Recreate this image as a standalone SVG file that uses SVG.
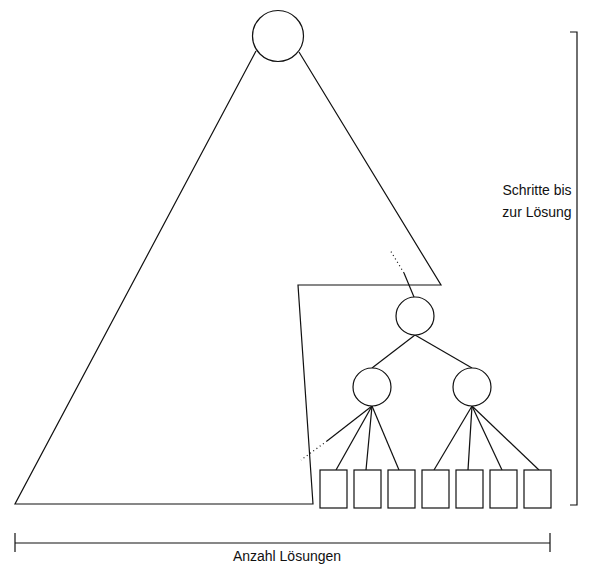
<svg xmlns="http://www.w3.org/2000/svg" width="590" height="567" viewBox="0 0 590 567">
  <style>
    .ln { fill: none; stroke: #111; stroke-width: 1.2; }
    .dot { fill: none; stroke: #111; stroke-width: 1.2; stroke-dasharray: 1 3; }
    .nd { fill: #fff; stroke: #111; stroke-width: 1.2; }
    .lbl { font-family: "Liberation Sans", Arial, sans-serif; font-size: 14px; fill: #111; }
  </style>
  <rect width="590" height="567" fill="#fff"/>

  <!-- search tree outline with cut-out subtree -->
  <g id="outline">
    <polyline class="ln" points="256,51 15,504 313,504 298,285 441,285 299,52"/>
  </g>

  <g id="connectors">
    <line class="ln" x1="414" y1="297" x2="404" y2="273"/>
    <line class="dot" x1="404" y1="273" x2="390" y2="250"/>
    <line class="ln" x1="415" y1="335" x2="372" y2="368"/>
    <line class="ln" x1="415" y1="335" x2="472" y2="368"/>
    <line class="ln" x1="372" y1="406" x2="327" y2="441"/>
    <line class="dot" x1="327" y1="441" x2="301" y2="460"/>
    <line class="ln" x1="372" y1="406" x2="336" y2="470"/>
    <line class="ln" x1="372" y1="406" x2="366" y2="470"/>
    <line class="ln" x1="372" y1="406" x2="399" y2="470"/>
    <line class="ln" x1="472" y1="406" x2="434" y2="470"/>
    <line class="ln" x1="472" y1="406" x2="468" y2="470"/>
    <line class="ln" x1="472" y1="406" x2="502" y2="470"/>
    <line class="ln" x1="472" y1="406" x2="539" y2="470"/>
  </g>

  <g id="root"><circle class="nd" cx="278" cy="36" r="25.5"/></g>
  <g id="n1"><circle class="nd" cx="415" cy="316" r="19"/></g>
  <g id="n2"><circle class="nd" cx="372" cy="387" r="19"/></g>
  <g id="n3"><circle class="nd" cx="472" cy="387" r="19"/></g>

  <g id="leaf1"><rect class="nd" x="320" y="470" width="27" height="38"/></g>
  <g id="leaf2"><rect class="nd" x="354" y="470" width="27" height="38"/></g>
  <g id="leaf3"><rect class="nd" x="388" y="470" width="27" height="38"/></g>
  <g id="leaf4"><rect class="nd" x="422" y="470" width="27" height="38"/></g>
  <g id="leaf5"><rect class="nd" x="456" y="470" width="27" height="38"/></g>
  <g id="leaf6"><rect class="nd" x="490" y="470" width="27" height="38"/></g>
  <g id="leaf7"><rect class="nd" x="524" y="470" width="27" height="38"/></g>

  <!-- vertical extent: steps -->
  <g id="steps">
    <polyline class="ln" points="570,32 577,32 577,505 570,505"/>
    <text class="lbl" x="537" y="195" text-anchor="middle">Schritte bis</text>
    <text class="lbl" x="537" y="217" text-anchor="middle">zur Lösung</text>
  </g>

  <!-- horizontal extent: number of solutions -->
  <g id="count">
    <line class="ln" x1="15" y1="543" x2="550" y2="543"/>
    <line class="ln" x1="15" y1="533" x2="15" y2="552"/>
    <line class="ln" x1="550" y1="533" x2="550" y2="552"/>
    <text class="lbl" x="287" y="561" text-anchor="middle">Anzahl Lösungen</text>
  </g>
</svg>
